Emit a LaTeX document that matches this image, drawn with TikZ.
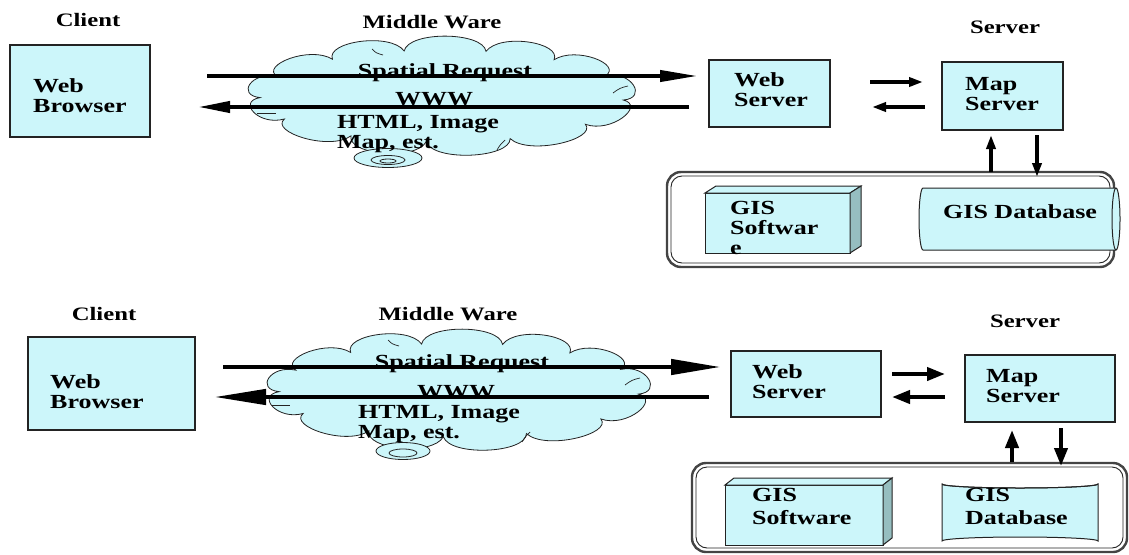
\documentclass[tikz,border=0pt]{standalone}
\usepackage{fontspec}
\setmainfont{Liberation Serif}[FakeStretch=1.3]
\usetikzlibrary{shapes.geometric,arrows.meta}
\definecolor{fillc}{RGB}{204,246,250}
\definecolor{sidec}{RGB}{150,190,192}
\definecolor{linec}{RGB}{35,35,35}
\newcommand\mlines[1]{\begin{tabular}[t]{@{}l@{}}#1\end{tabular}}
\begin{document}
\begin{tikzpicture}[x=1pt,y=-1pt,
  box/.style={draw=linec, line width=1.3pt, fill=fillc, anchor=north west, inner sep=0, outer sep=0},
  txt/.style={font=\fontsize{20}{20}\selectfont\bfseries, anchor=base west, inner sep=0},
  ctxt/.style={font=\fontsize{20}{20}\selectfont\bfseries, anchor=base, inner sep=0},
  hdr/.style={font=\fontsize{19}{19}\selectfont\bfseries, anchor=base, inner sep=0},
  cloudline/.style={draw=linec, fill=fillc, line width=0.8pt},
  outerbox/.style={draw=linec!85, line width=2.4pt, rounded corners=14pt, anchor=north west, inner sep=0, outer sep=0},
  swirl/.style={ellipse, draw=linec, fill=fillc, line width=0.8pt, inner sep=0},
  cloudmark/.style={draw=linec, line width=0.7pt},
  bigr/.style={line width=4pt, -{Triangle[length=#1,width=11pt]}},
  bigrb/.style={line width=4.5pt, -{Triangle[length=#1,width=15pt]}},
  smalla/.style={line width=3.5pt, -{Triangle[length=14pt,width=9pt]}},
  smallb/.style={line width=4pt, -{Triangle[length=18pt,width=13pt]}},
]
\useasboundingbox (0,0) rectangle (1129,554);
\fill[white] (0,0) rectangle (1129,554);

%%%%%%%%%%%%%%%% TOP DIAGRAM %%%%%%%%%%%%%%%%
\node[hdr] (client1) at (88,27) {Client};
\node[hdr] (mw1) at (432,28) {Middle Ware};
\node[hdr] (server1) at (1005,33) {Server};

\node[box, minimum width=140pt, minimum height=92pt] (wb1) at (10,45) {};
\node[txt] (wbt1) at (33,92) {\mlines{Web\\Browser}};

% cloud (top)
\path[cloudline] ({442+182*cos(5)},{96+46*sin(5)})
  \foreach \s/\e in {5/38,38/68,68/95,95/120,120/150,150/178,178/205,205/233,233/258,258/284,284/308,308/334,334/365}{
    .. controls ({442+206*cos(\s+0.1*(\e-\s))},{96+66*sin(\s+0.1*(\e-\s))})
       and ({442+206*cos(\e-0.1*(\e-\s))},{96+66*sin(\e-0.1*(\e-\s))}) .. ({442+182*cos(\e)},{96+46*sin(\e)})
  } -- cycle;
\draw[cloudmark] (257,113) -- (276,113);
\draw[cloudmark] (372,49) .. controls (376,53) .. (383,55);
\draw[cloudmark] (628,86) .. controls (620,88) .. (613,93);
\draw[cloudmark] (505,140) .. controls (500,145) .. (497,150);
\node[swirl, minimum width=68pt, minimum height=19pt] (sw1o) at (388,158) {};
\node[swirl, minimum width=34pt, minimum height=9pt] (sw1i) at (388,160) {};
\node[swirl, minimum width=16pt, minimum height=4pt] (sw1c) at (388,161) {};

\node[ctxt] (sr1) at (445,77) {Spatial Request};
\node[ctxt] (www1) at (434,105) {WWW};
\node[txt] (html1) at (337,128) {\mlines{HTML, Image\\Map, est.}};

\node[box, minimum width=121pt, minimum height=67pt] (ws1) at (709,60) {};
\node[txt] (wst1) at (734,86) {\mlines{Web\\Server}};
\node[box, minimum width=121pt, minimum height=68pt] (ms1) at (942,62) {};
\node[txt] (mst1) at (965,90) {\mlines{Map\\Server}};

\coordinate (a1s) at (207,76);
\coordinate (a1e) at (698,76);
\coordinate (a2s) at (689,107);
\coordinate (a2e) at (198,107);
\draw[bigr=38pt] (a1s) -- (a1e);
\draw[bigr=32pt] (a2s) -- (a2e);
\draw[smalla] ([xshift=40pt]ws1.north east |- 0,82) -- ([xshift=-19pt]ms1.north west |- 0,82);
\draw[smalla] ([xshift=-17pt]ms1.north west |- 0,107) -- ([xshift=42pt]ws1.north east |- 0,107);

% GIS group
\node[outerbox, minimum width=447pt, minimum height=95pt] (gis1) at (667,172) {};
\draw[linec, line width=0.9pt, rounded corners=11pt] ([shift={(4,4)}]gis1.north west) rectangle ([shift={(-4,-4)}]gis1.south east);
\draw[smalla] (gis1.north -| 991,0) -- ([yshift=-5pt]ms1.south -| 991,0);
\draw[smalla] ([yshift=-5pt]ms1.south -| 1037,0) -- ([yshift=-5pt]gis1.north -| 1037,0);

\node[box, line width=1pt, minimum width=145pt, minimum height=60pt] (soft1) at (705,193) {};
\filldraw[draw=linec, line width=1pt, fill=fillc] (soft1.north west) -- ++(11,-7) -- ([shift={(11,-7)}]soft1.north east) -- (soft1.north east) -- cycle;
\filldraw[draw=linec, line width=1pt, fill=sidec] (soft1.north east) -- ++(11,-7) -- ([shift={(11,-7)}]soft1.south east) -- (soft1.south east) -- cycle;
\node[txt] (softt1) at (730,214) {\mlines{GIS\\Softwar\\e}};

\filldraw[draw=linec, line width=1pt, fill=fillc]
  (923,188) -- (1116,188) arc[start angle=-90, end angle=90, x radius=4, y radius=31]
  -- (923,250) arc[start angle=90, end angle=270, x radius=4, y radius=31] -- cycle;
\draw[linec, line width=1pt] (1116,188) arc[start angle=-90, end angle=-270, x radius=4, y radius=31];
\node[txt] (dbt1) at (943,218) {GIS Database};

%%%%%%%%%%%%%%%% BOTTOM DIAGRAM %%%%%%%%%%%%%%%%
\node[hdr] (client2) at (104,320) {Client};
\node[hdr] (mw2) at (448,320) {Middle Ware};
\node[hdr] (server2) at (1025,327) {Server};

\node[box, minimum width=167pt, minimum height=93pt] (wb2) at (28,337) {};
\node[txt] (wbt2) at (50,388) {\mlines{Web\\Browser}};

% cloud (bottom)
\path[cloudline] ({459+180*cos(5)},{390+47*sin(5)})
  \foreach \s/\e in {5/38,38/68,68/95,95/120,120/150,150/178,178/205,205/233,233/258,258/284,284/308,308/334,334/365}{
    .. controls ({459+204*cos(\s+0.1*(\e-\s))},{390+67*sin(\s+0.1*(\e-\s))})
       and ({459+204*cos(\e-0.1*(\e-\s))},{390+67*sin(\e-0.1*(\e-\s))}) .. ({459+180*cos(\e)},{390+47*sin(\e)})
  } -- cycle;
\draw[cloudmark] (272,405) -- (290,405);
\draw[cloudmark] (388,340) .. controls (392,344) .. (399,346);
\draw[cloudmark] (640,378) .. controls (632,380) .. (625,385);
\draw[cloudmark] (530,432) .. controls (525,437) .. (522,442);
\node[swirl, minimum width=54pt, minimum height=17pt] (sw2o) at (403,451) {};
\node[swirl, minimum width=28pt, minimum height=8pt] (sw2i) at (403,453) {};

\node[ctxt] (sr2) at (462,368) {Spatial Request};
\node[ctxt] (www2) at (456,398) {WWW};
\node[txt] (html2) at (358,418) {\mlines{HTML, Image\\Map, est.}};

\node[box, minimum width=150pt, minimum height=66pt] (ws2) at (731,351) {};
\node[txt] (wst2) at (752,378) {\mlines{Web\\Server}};
\node[box, minimum width=150pt, minimum height=67pt] (ms2) at (965,355) {};
\node[txt] (mst2) at (986,382) {\mlines{Map\\Server}};

\coordinate (b1s) at (223,367);
\coordinate (b1e) at (721,367);
\coordinate (b2s) at (709,397);
\coordinate (b2e) at (214,397);
\draw[bigrb=50pt] (b1s) -- (b1e);
\draw[bigrb=52pt] (b2s) -- (b2e);
\draw[smallb] ([xshift=11pt]ws2.north east |- 0,374) -- ([xshift=-20pt]ms2.north west |- 0,374);
\draw[smallb] ([xshift=-20pt]ms2.north west |- 0,397) -- ([xshift=11pt]ws2.north east |- 0,397);

\node[outerbox, minimum width=435pt, minimum height=89pt] (gis2) at (692,463) {};
\draw[linec, line width=0.9pt, rounded corners=11pt] ([shift={(4,4)}]gis2.north west) rectangle ([shift={(-4,-4)}]gis2.south east);
\draw[smallb] ([yshift=1pt]gis2.north -| 1012,0) -- ([yshift=-8pt]ms2.south -| 1012,0);
\draw[smallb] ([yshift=-6pt]ms2.south -| 1061,0) -- ([yshift=-3pt]gis2.north -| 1061,0);

\node[box, line width=1pt, minimum width=158pt, minimum height=60pt] (soft2) at (725,485) {};
\filldraw[draw=linec, line width=1pt, fill=fillc] (soft2.north west) -- ++(9,-7) -- ([shift={(9,-7)}]soft2.north east) -- (soft2.north east) -- cycle;
\filldraw[draw=linec, line width=1pt, fill=sidec] (soft2.north east) -- ++(9,-7) -- ([shift={(9,-7)}]soft2.south east) -- (soft2.south east) -- cycle;
\node[txt] (softt2) at (752,501) {\mlines{GIS\\[3pt]Software}};

\filldraw[draw=linec, line width=1pt, fill=fillc]
  (942,484) -- (942,541) arc[start angle=180, end angle=360, x radius=78, y radius=4]
  -- (1098,484) arc[start angle=0, end angle=180, x radius=78, y radius=4] -- cycle;
\draw[linec, line width=1pt] (942,484) arc[start angle=180, end angle=0, x radius=78, y radius=4];
\node[txt] (dbt2) at (965,501) {\mlines{GIS\\[3pt]Database}};
\end{tikzpicture}
\end{document}
